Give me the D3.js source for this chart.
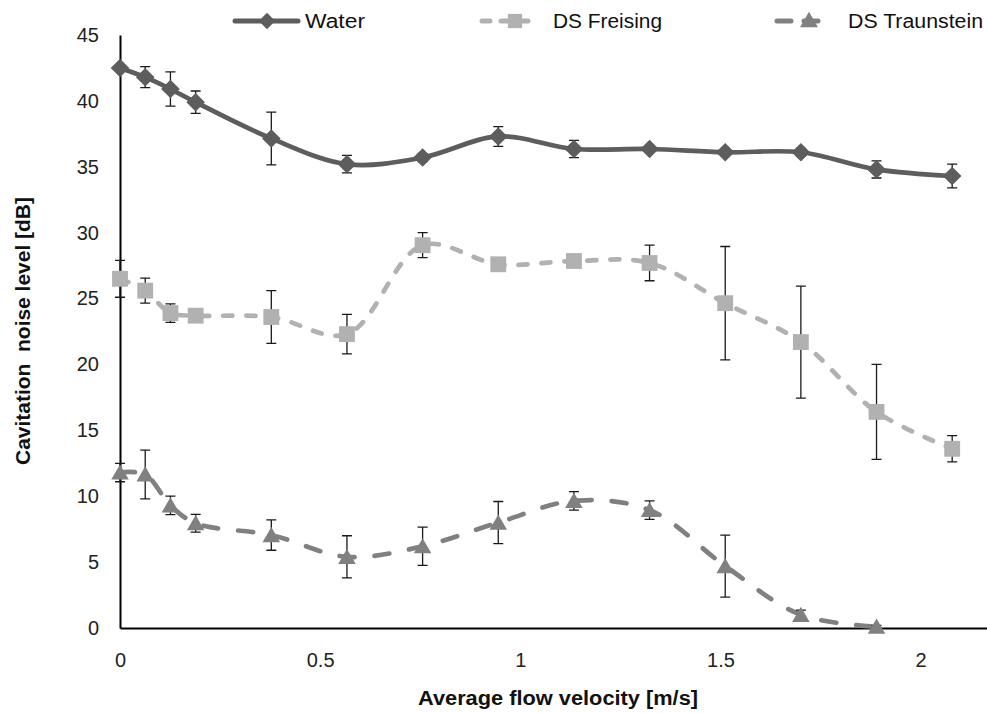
<!DOCTYPE html>
<html>
<head>
<meta charset="utf-8">
<script src="https://cdn.jsdelivr.net/npm/d3@7"></script>
<style>
  body { margin: 0; background: #fff; }
  svg { display: block; font-family: "Liberation Sans", Arial, sans-serif; }
</style>
</head>
<body>
<svg id="chart" width="987" height="713"></svg>
<script>
// velocities [m/s]
const velocity = [0, 0.063, 0.126, 0.189, 0.378, 0.567, 0.756, 0.945, 1.134, 1.323, 1.512, 1.701, 1.890, 2.079];

const waterMean = [42.5, 41.8, 40.9, 39.9, 37.15, 35.2, 35.7, 37.3, 36.35, 36.35, 36.1, 36.1, 34.8, 34.3];
const waterErr  = [0.2, 0.8, 1.3, 0.85, 2.0, 0.67, 0.3, 0.75, 0.65, 0.2, 0.2, 0.3, 0.65, 0.9];

const freisingMean = [26.5, 25.6, 23.9, 23.7, 23.6, 22.3, 29.05, 27.6, 27.85, 27.7, 24.65, 21.7, 16.4, 13.6];
const freisingErr  = [1.4, 0.95, 0.7, 0.3, 2.0, 1.5, 0.95, 0.2, 0.2, 1.35, 4.3, 4.25, 3.6, 1.0];

const traunsteinMean = [11.8, 11.65, 9.3, 7.95, 7.05, 5.4, 6.2, 8.0, 9.65, 8.95, 4.7, 1.0, 0.1];
const traunsteinErr  = [0.7, 1.85, 0.7, 0.67, 1.15, 1.6, 1.45, 1.6, 0.7, 0.7, 2.35, 0.35, 0.1];

const seriesNames = ['Water', 'DS Freising', 'DS Traunstein'];
const yTicks = [0, 5, 10, 15, 20, 25, 30, 35, 40, 45];
const xTicks = [0, 0.5, 1, 1.5, 2];

const series = [
  { name: seriesNames[0], mean: waterMean, err: waterErr, color: '#5d5d5d', dash: null, marker: d3.symbolDiamond2, size: 220 },
  { name: seriesNames[1], mean: freisingMean, err: freisingErr, color: '#b1b1b1', dash: '9,14', marker: d3.symbolSquare2, size: 320 },
  { name: seriesNames[2], mean: traunsteinMean, err: traunsteinErr, color: '#808080', dash: '15,20', marker: d3.symbolTriangle2, size: 220 }
];

const svg = d3.select('#chart');

const x = d3.scaleLinear().domain([0, 2.166]).range([120, 987]);
const y = d3.scaleLinear().domain([0, 45]).range([628, 35]);

// axes
const yAxis = d3.axisLeft(y).tickValues(yTicks).tickSize(0).tickPadding(21);
const xAxis = d3.axisBottom(x).tickValues(xTicks).tickSize(0).tickPadding(25)
  .tickFormat(d3.format('~g'));

const gy = svg.append('g').attr('transform', `translate(${x(0)},0)`).call(yAxis);
const gx = svg.append('g').attr('transform', `translate(0,${y(0)})`).call(xAxis);
[gx, gy].forEach(g => {
  g.select('.domain').attr('stroke', '#000').attr('stroke-width', 2);
  g.selectAll('text').attr('font-size', 20).attr('fill', '#222')
    .attr('font-family', '"Liberation Sans", Arial, sans-serif');
});

// axis titles
svg.append('text')
  .attr('x', 558).attr('y', 705)
  .attr('text-anchor', 'middle')
  .attr('font-weight', 'bold').attr('font-size', 20).attr('fill', '#111')
  .attr('textLength', 280).attr('lengthAdjust', 'spacingAndGlyphs')
  .text('Average flow velocity [m/s]');

svg.append('text')
  .attr('transform', 'translate(30,331) rotate(-90)')
  .attr('text-anchor', 'middle')
  .attr('font-weight', 'bold').attr('font-size', 20).attr('fill', '#111')
  .attr('textLength', 268).attr('lengthAdjust', 'spacingAndGlyphs')
  .style('white-space', 'pre')
  .text('Cavitation  noise level [dB]');

const line = d3.line()
  .x(d => x(d.v))
  .y(d => y(d.m))
  .curve(d3.curveCatmullRom.alpha(0.5));

series.forEach(s => {
  const pts = s.mean.map((m, i) => ({ v: velocity[i], m: m, e: s.err[i] }));

  svg.append('path')
    .datum(pts)
    .attr('d', line)
    .attr('fill', 'none')
    .attr('stroke', s.color)
    .attr('stroke-width', 4.7)
    .attr('stroke-linecap', 'round')
    .attr('stroke-dasharray', s.dash);

  // error bars
  const eb = svg.append('g').attr('stroke', '#1a1a1a').attr('stroke-width', 1.3);
  eb.selectAll('path')
    .data(pts)
    .join('path')
    .attr('fill', 'none')
    .attr('d', d => {
      const cx = x(d.v), y1 = y(d.m + d.e), y2 = y(Math.max(0, d.m - d.e));
      return `M${cx - 5},${y1}H${cx + 5}M${cx},${y1}V${y2}M${cx - 5},${y2}H${cx + 5}`;
    });
});

// markers on top
series.forEach(s => {
  const pts = s.mean.map((m, i) => ({ v: velocity[i], m: m }));
  svg.append('g').selectAll('path')
    .data(pts)
    .join('path')
    .attr('transform', d => `translate(${x(d.v)},${y(d.m) + (s.marker === d3.symbolTriangle2 ? 2 : 0)})`)
    .attr('d', d3.symbol(s.marker, s.size))
    .attr('fill', s.color);
});

// legend
const legendLine = [[233, 300], [480, 537], [775, 832]];
const legendMark = [267, 515, 809];
const legendText = [305, 553, 848];
const legendW = [60, 109, 135];
const legendDash = [null, '8,11', '14,13'];
const legendSize = [170, 260, 230];
series.forEach((s, i) => {
  const g = svg.append('g').attr('transform', 'translate(0,21)');
  g.append('line')
    .attr('x1', legendLine[i][0] + 2).attr('x2', legendLine[i][1] - 2)
    .attr('stroke', s.color)
    .attr('stroke-width', 5)
    .attr('stroke-linecap', 'round')
    .attr('stroke-dasharray', legendDash[i]);
  g.append('path')
    .attr('transform', `translate(${legendMark[i]},${i === 2 ? 1 : 0})`)
    .attr('d', d3.symbol(s.marker, legendSize[i]))
    .attr('fill', s.color);
  g.append('text')
    .attr('x', legendText[i]).attr('y', 7)
    .attr('font-size', 20).attr('fill', '#111')
    .attr('textLength', legendW[i]).attr('lengthAdjust', 'spacingAndGlyphs')
    .text(s.name);
});
</script>
</body>
</html>
